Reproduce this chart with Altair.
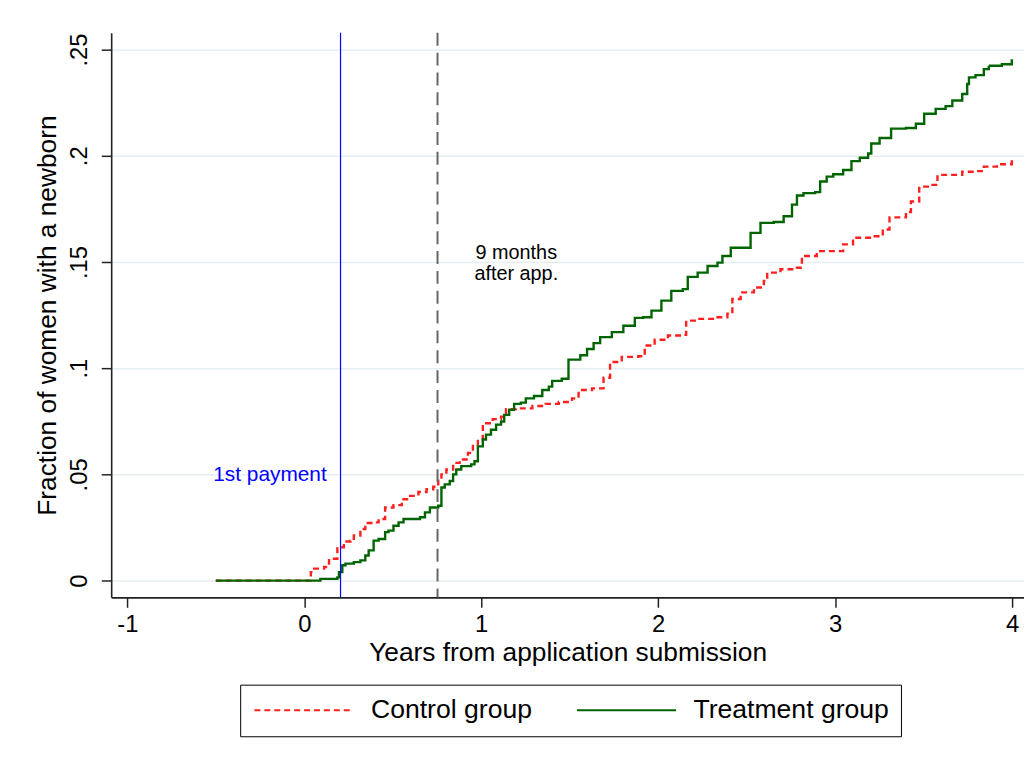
import altair as alt
import pandas as pd

# years from application submission / cumulative fraction with a newborn
control_x = [-0.5, 0.0, 0.037, 0.047, 0.112, 0.140, 0.187, 0.224, 0.261, 0.280, 0.317, 0.345,
             0.392, 0.420, 0.457, 0.504, 0.551, 0.598, 0.645, 0.691, 0.729, 0.757, 0.775,
             0.803, 0.841, 0.878, 0.925, 0.953, 0.981, 1.009, 1.065, 1.112, 1.140, 1.196,
             1.289, 1.364, 1.438, 1.513, 1.550, 1.626, 1.691, 1.728, 1.794, 1.887, 1.924,
             1.980, 2.055, 2.139, 2.158, 2.223, 2.317, 2.391, 2.419, 2.466, 2.541, 2.597,
             2.616, 2.691, 2.784, 2.812, 2.896, 3.045, 3.101, 3.213, 3.269, 3.307, 3.400,
             3.428, 3.475, 3.550, 3.578, 3.718, 3.793, 3.840, 3.914, 3.998]
control_y = [0.0, 0.0, 0.0040, 0.0056, 0.0064, 0.0103, 0.0157, 0.0184, 0.0188, 0.0212, 0.0243, 0.0271,
             0.0274, 0.0290, 0.0344, 0.0355, 0.0383, 0.0399, 0.0417, 0.0430, 0.0442, 0.0477, 0.0500,
             0.0523, 0.0554, 0.0570, 0.0601, 0.0640, 0.0664, 0.0741, 0.0760, 0.0772, 0.0807, 0.0811,
             0.0822, 0.0832, 0.0841, 0.0858, 0.0897, 0.0905, 0.0955, 0.1029, 0.1053, 0.1056, 0.1107,
             0.1134, 0.1154, 0.1157, 0.1224, 0.1232, 0.1240, 0.1256, 0.1326, 0.1357, 0.1380, 0.1411,
             0.1450, 0.1466, 0.1473, 0.1528, 0.1551, 0.1583, 0.1614, 0.1621, 0.1653, 0.1710, 0.1735,
             0.1785, 0.1855, 0.1863, 0.1910, 0.1925, 0.1928, 0.1949, 0.1960, 0.1979]

treat_x = [-0.5, 0.0, 0.091, 0.187, 0.196, 0.215, 0.233, 0.280, 0.317, 0.345, 0.364, 0.392,
           0.420, 0.457, 0.476, 0.504, 0.533, 0.561, 0.654, 0.682, 0.710, 0.757, 0.775, 0.794,
           0.822, 0.841, 0.859, 0.887, 0.943, 0.962, 0.981, 1.009, 1.027, 1.055, 1.084, 1.112,
           1.130, 1.158, 1.186, 1.224, 1.252, 1.298, 1.345, 1.382, 1.401, 1.455, 1.493, 1.560,
           1.598, 1.635, 1.672, 1.738, 1.803, 1.868, 1.915, 1.962, 2.018, 2.074, 2.139, 2.167,
           2.223, 2.279, 2.335, 2.363, 2.410, 2.522, 2.578, 2.653, 2.709, 2.756, 2.784, 2.821,
           2.887, 2.915, 2.952, 2.989, 3.045, 3.092, 3.139, 3.186, 3.204, 3.251, 3.316, 3.400,
           3.456, 3.503, 3.568, 3.624, 3.662, 3.718, 3.746, 3.756, 3.793, 3.840, 3.868, 3.942,
           3.998]
treat_y = [0.0, 0.0, 0.0008, 0.0015, 0.0040, 0.0072, 0.0080, 0.0087, 0.0095, 0.0118, 0.0142, 0.0188,
           0.0196, 0.0228, 0.0235, 0.0258, 0.0274, 0.0290, 0.0298, 0.0321, 0.0344, 0.0352, 0.0438, 0.0453,
           0.0469, 0.0500, 0.0523, 0.0539, 0.0547, 0.0562, 0.0632, 0.0664, 0.0687, 0.0710, 0.0734, 0.0749,
           0.0780, 0.0804, 0.0832, 0.0838, 0.0858, 0.0869, 0.0897, 0.0913, 0.0940, 0.0950, 0.1040, 0.1061,
           0.1090, 0.1118, 0.1146, 0.1170, 0.1200, 0.1237, 0.1240, 0.1271, 0.1318, 0.1364, 0.1372, 0.1430,
           0.1450, 0.1481, 0.1497, 0.1528, 0.1567, 0.1637, 0.1684, 0.1688, 0.1715, 0.1770, 0.1813, 0.1824,
           0.1829, 0.1879, 0.1902, 0.1913, 0.1933, 0.1975, 0.1991, 0.2011, 0.2058, 0.2084, 0.2128, 0.2131,
           0.2151, 0.2198, 0.2221, 0.2234, 0.2260, 0.2291, 0.2338, 0.2369, 0.2380, 0.2408, 0.2424, 0.2431,
           0.2455]

groups = ["Control group", "Treatment group"]
x_ticks = [-1, 0, 1, 2, 3, 4]
y_ticks = [0, 0.05, 0.1, 0.15, 0.2, 0.25]

payment_x = 0.205      # 1st payment
nine_months_x = 0.753  # 9 months after application

FONT = "Liberation Sans"

curves = pd.concat([
    pd.DataFrame({"x": control_x, "y": control_y, "group": groups[0]}),
    pd.DataFrame({"x": treat_x, "y": treat_y, "group": groups[1]}),
], ignore_index=True)

xscale = alt.Scale(domain=[-1.091, 4.067], nice=False, zero=False)
yscale = alt.Scale(domain=[-0.0079, 0.2579], nice=False, zero=False)

x_axis = alt.Axis(values=x_ticks, grid=False, title="Years from application submission",
                  labelExpr="'' + datum.value", tickSize=10, labelPadding=5, titlePadding=4)
y_axis = alt.Axis(values=y_ticks, grid=True, title="Fraction of women with a newborn",
                  labelExpr="datum.value == 0 ? '0' : replace('' + datum.value, '0.', '.')",
                  labelAngle=270, labelAlign="center", labelBaseline="bottom",
                  tickSize=10, labelPadding=10, titlePadding=6)

lines = alt.Chart(curves).mark_line(interpolate="step-after", strokeWidth=2.4).encode(
    x=alt.X("x:Q", scale=xscale, axis=x_axis),
    y=alt.Y("y:Q", scale=yscale, axis=y_axis),
    color=alt.Color("group:N", scale=alt.Scale(domain=groups, range=["#ff1f1f", "#006400"]),
                    legend=alt.Legend(title=None)),
    strokeDash=alt.StrokeDash("group:N", scale=alt.Scale(domain=groups, range=[[6, 4], [1, 0]]),
                              legend=alt.Legend(title=None)),
)

pay_rule = alt.Chart(pd.DataFrame({"x": [payment_x]})).mark_rule(
    color="#0000ff", strokeWidth=1.2).encode(x="x:Q")
nine_rule = alt.Chart(pd.DataFrame({"x": [nine_months_x]})).mark_rule(
    color="#666666", strokeWidth=2, strokeDash=[13, 7]).encode(x="x:Q")

pay_text = alt.Chart(pd.DataFrame({"x": [0.127], "y": [0.0467], "t": ["1st payment"]})).mark_text(
    align="right", baseline="alphabetic", fontSize=21, font=FONT, color="#0000ff"
).encode(x="x:Q", y="y:Q", text="t:N")

nine_text = alt.Chart(pd.DataFrame({"x": [1.198], "y": [0.1514]})).mark_text(
    align="center", baseline="alphabetic", fontSize=20, font=FONT, color="black", lineHeight=21,
    text=["9 months", "after app."]
).encode(x="x:Q", y="y:Q")

chart = alt.layer(lines, pay_rule, nine_rule, pay_text, nine_text).properties(
    width=920, height=569,
    autosize=alt.AutoSizeParams(type="none"),
    padding={"left": 104, "top": 22, "right": 0, "bottom": 170},
).configure_view(
    stroke=None
).configure_axis(
    labelFont=FONT, titleFont=FONT, labelFontSize=24, titleFontSize=26.5,
    labelColor="black", titleColor="black", titleFontWeight="normal",
    domainColor="#222222", domainWidth=1.6, tickColor="#222222", tickWidth=1.5,
    gridColor="#e6eef1", gridWidth=1.5,
).configure_legend(
    orient="none", legendX=130, legendY=657, direction="horizontal",
    # wide line symbol: path spans -5..5 units, scaled by sqrt(size)/2 = 10px -> 100px long
    symbolType="M-5,0H5", symbolSize=400, symbolStrokeWidth=2, symbolOffset=39,
    labelFont=FONT, labelFontSize=26.8, labelColor="black", labelLimit=400,
    labelOffset=54, columnPadding=40, padding=12,
    strokeColor="black", fillColor="white",
)

chart.save("out.html", embed_options={"renderer": "svg", "actions": False})
